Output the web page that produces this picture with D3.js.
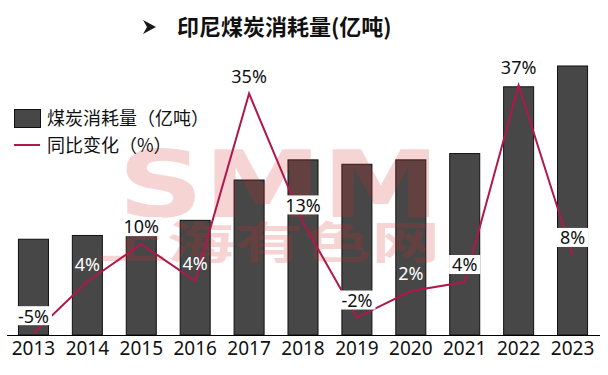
<!DOCTYPE html>
<html>
<head>
<meta charset="utf-8">
<script src="https://cdn.jsdelivr.net/npm/d3@7/dist/d3.min.js"></script>
<style>
  html, body { margin: 0; padding: 0; background: #fff; }
  svg { display: block; }
</style>
</head>
<body>
<div id="chart"></div>
<script>
// Indonesia coal consumption (100 million tonnes) and year-on-year change (%)
const years = ['2013', '2014', '2015', '2016', '2017', '2018', '2019', '2020', '2021', '2022', '2023'];
const consumption = [0.76, 0.79, 0.875, 0.91, 1.23, 1.39, 1.355, 1.39, 1.44, 1.97, 2.135];
const yoyChange = [-4.6, 4.0, 10.2, 4.1, 35.2, 13.8, -2.0, 2.4, 3.9, 36.6, 8.4];
const yoyLabels = ['-5%', '4%', '10%', '4%', '35%', '13%', '-2%', '2%', '4%', '37%', '8%'];
const legendNames = ['煤炭消耗量（亿吨）', '同比变化（%）'];
const title = '印尼煤炭消耗量(亿吨)';

// labels drawn in white straight on the bar (no box)
const whiteLabelYears = ['2014', '2016', '2020'];

const width = 608, height = 375;
const barColor = '#474747', lineColor = '#b0174c';

const svg = d3.select('#chart').append('svg')
    .attr('width', width)
    .attr('height', height);

const x = d3.scaleBand()
    .domain(years)
    .range([6.5, 599.5])
    .paddingInner(0.443)
    .paddingOuter(0.2215);

const yBar = d3.scaleLinear()
    .domain([0, 2.5])
    .range([335, 20]);

const yLine = d3.scaleLinear()
    .domain([-5, 40])
    .range([335.6, 64.7]);

// bars
svg.append('g')
  .selectAll('rect')
  .data(years)
  .join('rect')
    .attr('x', d => x(d))
    .attr('y', (d, i) => yBar(consumption[i]))
    .attr('width', x.bandwidth())
    .attr('height', (d, i) => yBar(0) - yBar(consumption[i]))
    .attr('fill', barColor)
    .attr('stroke', '#111')
    .attr('stroke-width', 1);

// watermark
const wm = svg.append('g').attr('fill', 'rgb(215,45,45)').attr('opacity', 0.2)
    .style('pointer-events', 'none');
wm.append('text')
    .attr('x', 118).attr('y', 217)
    .attr('textLength', 322).attr('lengthAdjust', 'spacingAndGlyphs')
    .style('font-family', 'DejaVu Sans').style('font-weight', 'bold')
    .style('font-size', '92px')
    .text('SMM');
wm.append('text')
    .attr('x', 98).attr('y', 259)
    .attr('textLength', 342).attr('lengthAdjust', 'spacingAndGlyphs')
    .style('font-family', 'Noto Sans CJK SC').style('font-weight', 'bold')
    .style('font-size', '44px')
    .text('上海有色网');

// x axis
const xAxis = svg.append('g')
    .attr('transform', 'translate(0,335)')
    .call(d3.axisBottom(x).tickSize(0).tickSizeOuter(0).tickPadding(7));
xAxis.select('.domain').attr('stroke', '#000').attr('stroke-width', 1.2);
xAxis.selectAll('text')
    .style('font-family', 'Noto Sans')
    .style('font-size', '19px')
    .attr('fill', '#111');

// yoy line
const line = d3.line()
    .x((d, i) => x(years[i]) + x.bandwidth() / 2)
    .y(d => yLine(d));

svg.append('path')
    .datum(yoyChange)
    .attr('fill', 'none')
    .attr('stroke', lineColor)
    .attr('stroke-width', 2)
    .attr('stroke-linejoin', 'miter')
    .attr('d', line);

// data labels
const labels = svg.append('g')
  .selectAll('g')
  .data(years)
  .join('g')
    .attr('transform', (d, i) => `translate(${x(d) + x.bandwidth() / 2},${yLine(yoyChange[i]) - 17})`);

labels.filter(d => !whiteLabelYears.includes(d))
  .append('rect')
    .attr('x', (d, i) => 0)
    .attr('y', -10)
    .attr('height', 19)
    .attr('fill', '#fff');

labels.append('text')
    .attr('text-anchor', 'middle')
    .attr('dy', '0.35em')
    .style('font-family', 'Noto Sans')
    .style('font-size', '18px')
    .attr('fill', d => whiteLabelYears.includes(d) ? '#fff' : '#111')
    .text((d, i) => yoyLabels[years.indexOf(d)]);

// size the label boxes to their text
labels.each(function() {
  const g = d3.select(this);
  const r = g.select('rect');
  if (r.empty()) return;
  const w = g.select('text').node().getComputedTextLength() + 6;
  r.attr('x', -w / 2).attr('width', w);
});

// legend
const legend = svg.append('g');
legend.append('rect')
    .attr('x', 14.5).attr('y', 109.5)
    .attr('width', 26).attr('height', 18)
    .attr('fill', barColor).attr('stroke', '#111');
legend.append('line')
    .attr('x1', 14).attr('x2', 40)
    .attr('y1', 145).attr('y2', 145)
    .attr('stroke', lineColor).attr('stroke-width', 2);
legend.selectAll('text')
  .data(legendNames)
  .join('text')
    .attr('x', 47)
    .attr('y', (d, i) => 119 + i * 27)
    .attr('dy', '0.35em')
    .style('font-family', 'Noto Sans CJK SC')
    .style('font-size', '18px')
    .attr('fill', '#111')
    .text(d => d);

// title with arrow bullet
svg.append('path')
    .attr('d', 'M143,20 L156,27 L143,34 L147,27 Z')
    .attr('fill', '#1a1a1a');
svg.append('text')
    .attr('x', 177).attr('y', 27)
    .attr('dy', '0.35em')
    .style('font-family', 'Noto Sans CJK SC')
    .style('font-weight', 'bold')
    .style('font-size', '22px')
    .attr('fill', '#111')
    .text(title);
</script>
</body>
</html>
